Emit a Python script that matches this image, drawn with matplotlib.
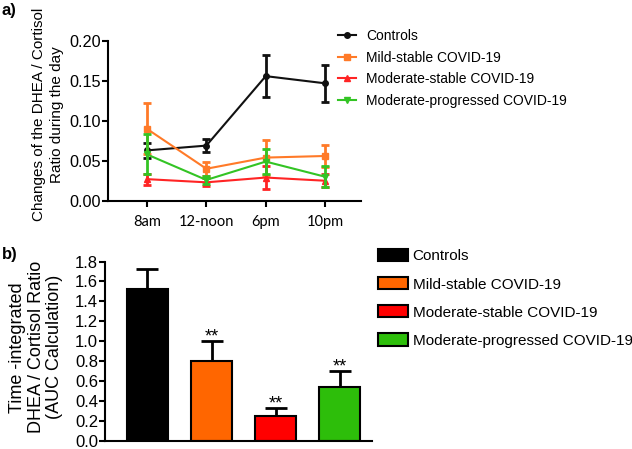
import matplotlib
matplotlib.use("Agg")
import matplotlib.pyplot as plt
from matplotlib.lines import Line2D
from matplotlib.patches import Patch
import numpy as np

plt.rcParams['font.family'] = ['Liberation Sans', 'DejaVu Sans']

# ---- data ----
times = ["8am", "12-noon", "6pm", "10pm"]
groups = ["Controls", "Mild-stable COVID-19", "Moderate-stable COVID-19",
          "Moderate-progressed COVID-19"]
ctrl_mean = [0.063, 0.069, 0.156, 0.147]
ctrl_err = [0.009, 0.008, 0.026, 0.023]
mild_mean = [0.090, 0.040, 0.054, 0.056]
mild_err = [0.032, 0.009, 0.022, 0.014]
mods_mean = [0.027, 0.023, 0.029, 0.025]
mods_err = [0.007, 0.005, 0.014, 0.008]
modp_mean = [0.058, 0.026, 0.049, 0.030]
modp_err = [0.025, 0.005, 0.016, 0.013]

auc_mean = [1.52, 0.80, 0.25, 0.54]
auc_err = [0.20, 0.20, 0.08, 0.16]
auc_sig = ["", "**", "**", "**"]

line_colors = ["#111111", "#FF7A28", "#FF2424", "#33C424"]
markers = ["o", "s", "^", "v"]
bar_colors = ["#000000", "#FF6600", "#FF0000", "#2DBE0A"]

W, H = 632, 449
fig = plt.figure(figsize=(W / 100, H / 100), dpi=100)

# ---- panel a ----
axa = fig.add_axes([107.7 / W, 1 - 200.7 / H, 253.1 / W, 159.7 / H])
x = np.arange(len(times))
series = [(ctrl_mean, ctrl_err), (mild_mean, mild_err),
          (mods_mean, mods_err), (modp_mean, modp_err)]
order = [2, 3, 1, 0]
for i in order:
    m, e = series[i]
    axa.errorbar(x, m, yerr=e, color=line_colors[i], marker=markers[i],
                 markersize=4, lw=1.5, elinewidth=2, capsize=3, capthick=2,
                 zorder=3 + i)
axa.set_xlim(-0.66, 3.6)
axa.set_ylim(0, 0.20)
axa.set_yticks([0, 0.05, 0.10, 0.15, 0.20])
axa.set_yticklabels(["%.2f" % v for v in [0, 0.05, 0.10, 0.15, 0.20]],
                    fontsize=11.7)
axa.set_xticks(x)
axa.set_xticklabels(times, fontsize=10.5, family=['Lato', 'DejaVu Sans'])
axa.tick_params(axis='x', length=4, width=1.5, pad=6)
axa.tick_params(axis='y', length=4, width=1.5, pad=1)
for s in ['top', 'right']:
    axa.spines[s].set_visible(False)
for s in ['left', 'bottom']:
    axa.spines[s].set_linewidth(1.5)
axa.set_ylabel("Changes of the DHEA / Cortisol\nRatio during the day",
               fontsize=11, va='center', linespacing=1.35)
axa.yaxis.set_label_coords(-0.235, 0.54)

handles_a = [Line2D([0], [0], color=line_colors[i], marker=markers[i],
                    markersize=4, lw=1.5) for i in range(4)]
fig.legend(handles_a, groups, loc='upper left',
           bbox_to_anchor=(338 / W, 1 - 29 / H), frameon=False, fontsize=10,
           handlelength=1.3, handletextpad=0.72, labelspacing=0.55,
           borderpad=0, borderaxespad=0)

# ---- panel b ----
axb = fig.add_axes([105 / W, 1 - 441 / H, 267 / W, 179.5 / H])
xb = np.arange(len(groups))
axb.bar(xb, auc_mean, width=0.64, color=bar_colors, edgecolor='black',
        linewidth=1.5, zorder=2)
axb.errorbar(xb, auc_mean, yerr=[np.zeros(4), auc_err], fmt='none',
             ecolor='black', elinewidth=2, capsize=8, capthick=2, zorder=1)
for xi, m, e, s in zip(xb, auc_mean, auc_err, auc_sig):
    if s:
        axb.annotate(s, (xi, m + e), xytext=(0, 0), textcoords='offset points',
                     ha='center', va='baseline', fontsize=13)
axb.set_xlim(-0.66, 3.5)
axb.set_ylim(0, 1.8)
yt = np.round(np.arange(0, 1.81, 0.2), 1)
axb.set_yticks(yt)
axb.set_yticklabels(["%.1f" % v for v in yt], fontsize=12)
axb.set_xticks([])
axb.tick_params(axis='y', length=4, width=1.5, pad=1)
for s in ['top', 'right']:
    axb.spines[s].set_visible(False)
for s in ['left', 'bottom']:
    axb.spines[s].set_linewidth(1.5)
axb.set_ylabel("Time -integrated\nDHEA / Cortisol Ratio\n(AUC Calculation)",
               fontsize=13, va='center', linespacing=1.1)
axb.yaxis.set_label_coords(-0.258, 0.522)

handles_b = [Patch(facecolor=bar_colors[i], edgecolor='black', linewidth=1.5)
             for i in range(4)]
fig.legend(handles_b, groups, loc='upper left',
           bbox_to_anchor=(378 / W, 1 - 249 / H), frameon=False, fontsize=11,
           handlelength=1.96, handleheight=0.85, handletextpad=0.3,
           labelspacing=0.9, borderpad=0, borderaxespad=0)

fig.text(1 / W, 1 - 10 / H, "a)", fontsize=12, fontweight='bold', va='center')
fig.text(2 / W, 1 - 255 / H, "b)", fontsize=12, fontweight='bold', va='center')

fig.savefig("out.png", dpi=100)
